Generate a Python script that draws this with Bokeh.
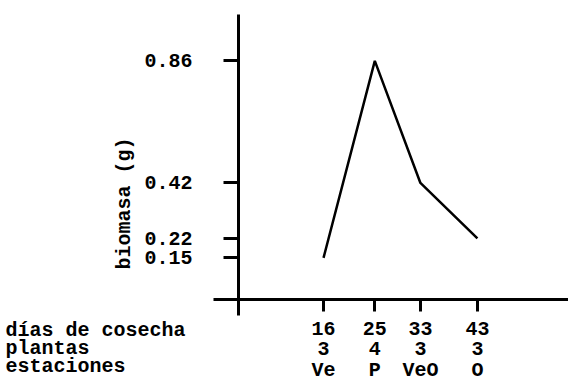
from bokeh.plotting import figure
from bokeh.models import FixedTicker, Label, Range1d
from bokeh.embed import file_html
from bokeh.resources import INLINE
import math

# data
dias = [16, 25, 33, 43]
plantas = ["3", "4", "3", "3"]
estaciones = ["Ve", "P", "VeO", "O"]
biomasa = [0.15, 0.86, 0.42, 0.22]
y_ticks = [0.15, 0.22, 0.42, 0.86]
row_labels = ["días de cosecha", "plantas", "estaciones"]
y_label = "biomasa (g)"

FONT = "Liberation Mono"
FS = "20px"

p = figure(width=568, height=382, output_backend="svg", toolbar_location=None,
           x_range=Range1d(-40.67, 58.98), y_range=Range1d(-0.299, 1.0775),
           min_border=0, min_border_left=0, min_border_right=0,
           min_border_top=0, min_border_bottom=0)
p.outline_line_color = None
p.xgrid.visible = False
p.ygrid.visible = False
p.background_fill_color = "white"
p.border_fill_color = "white"

p.line(dias, biomasa, line_color="black", line_width=2.5)

# axes crossing
p.xaxis.fixed_location = 0
p.yaxis.fixed_location = 1.09
p.xaxis.bounds = (-3.3, 58.98)
p.yaxis.bounds = (-0.0577, 1.027)

for ax in (p.xaxis, p.yaxis):
    ax.axis_line_width = 3
    ax.axis_line_color = "black"
    ax.major_tick_line_width = 3
    ax.major_tick_line_color = "black"
    ax.minor_tick_line_color = None
    ax.major_tick_in = 0
    ax.major_label_text_font = FONT
    ax.major_label_text_font_style = "bold"
    ax.major_label_text_font_size = FS
    ax.major_label_text_color = "black"

p.xaxis.ticker = FixedTicker(ticks=dias)
p.xaxis.major_label_overrides = {d: f"{d}\n{pl}\n{e}" for d, pl, e in zip(dias, plantas, estaciones)}
p.xaxis.major_tick_out = 12
p.xaxis.major_label_standoff = 6
p.xaxis.major_label_text_line_height = 0.9

p.yaxis.ticker = FixedTicker(ticks=y_ticks)
p.yaxis.major_label_overrides = {t: f"{t:.2f}" for t in y_ticks}
p.yaxis.major_tick_out = 15
p.yaxis.major_label_standoff = 31

# y axis title (between plot edge and tick labels)
p.add_layout(Label(x=124, y=179, x_units="screen", y_units="screen", text=y_label,
                   angle=math.pi / 2, text_align="center", text_baseline="middle",
                   text_font=FONT, text_font_style="bold", text_font_size=FS,
                   text_color="black"))

# row labels at left
for i, t in enumerate(row_labels):
    p.add_layout(Label(x=5, y=52 - 18 * i, x_units="screen", y_units="screen", text=t,
                       text_align="left", text_baseline="middle",
                       text_font=FONT, text_font_style="bold", text_font_size=FS,
                       text_color="black"))

open("out.html", "w").write(file_html(p, INLINE))
